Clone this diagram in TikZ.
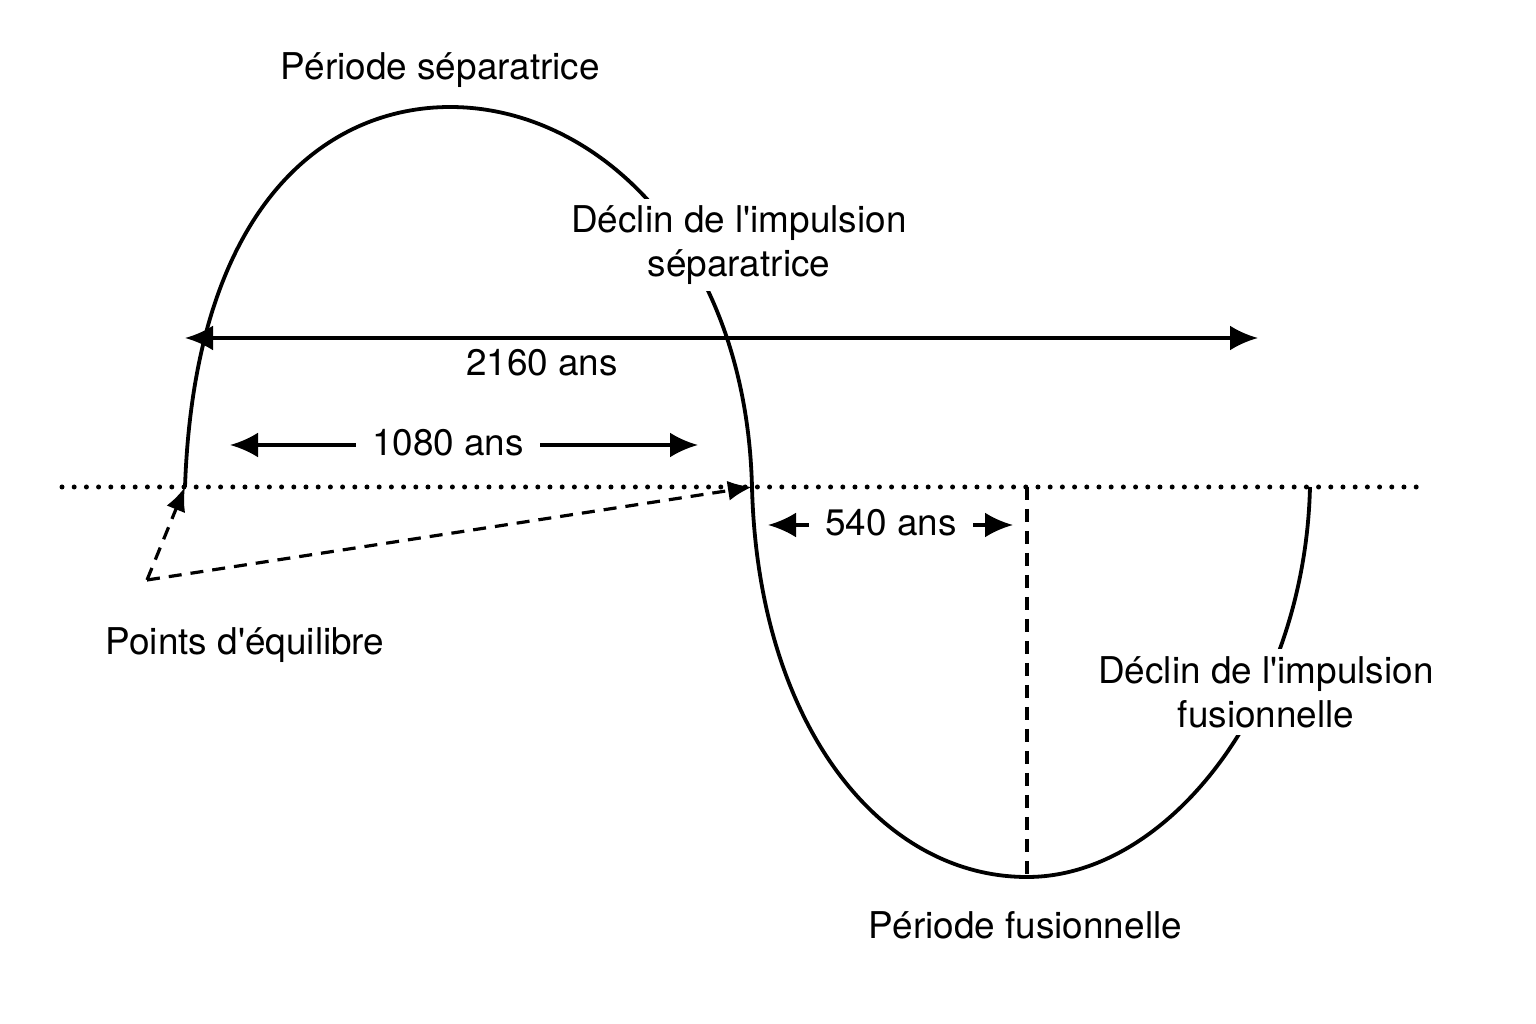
\documentclass[tikz,border=0pt]{standalone}
\usepackage{fontspec}
\setmainfont{TeX Gyre Heros}
\usetikzlibrary{arrows.meta}
\newcommand{\apos}{\textquotesingle}
\begin{document}
\begin{tikzpicture}[
        x=0.1mm, y=-0.1mm,
        lbl/.style={font=\fontsize{10.5}{12.5}\selectfont, align=center, inner sep=2pt},
        curve/.style={line width=0.38mm},
        dim/.style={line width=0.36mm, -{Latex[length=2.8mm, width=2.5mm]}},
        point/.style={line width=0.32mm, dash pattern=on 1.3mm off 0.9mm, -{Latex[length=2.4mm, width=2mm]}},
        axis/.style={line width=0.5mm, line cap=round, dash pattern=on 0pt off 1.22mm}
    ]
        \useasboundingbox (0,0) rectangle (1536,1024);

        % Equilibrium line
        \coordinate (axL) at (62,487);
        \coordinate (axR) at (1420,487);
        \draw[axis] (axL) -- (axR);

        % Points on the line
        \coordinate (eq1) at (185,487);
        \coordinate (eq2) at (752,487);
        \coordinate (eq3) at (1310,487);
        \coordinate (top) at (450,107);
        \coordinate (bot) at (1027,877);

        % Curve
        \draw[curve] (eq1) .. controls (195,200) and (330,107) .. (top)
            .. controls (600,107) and (746,250) .. (eq2)
            .. controls (758,724) and (880,877) .. (bot)
            .. controls (1170,877) and (1305,700) .. (eq3);

        % Labels on the curve
        \node[lbl] (perSep) at (440,70) {Période séparatrice};
        \node[lbl, fill=white] (decSep) at (739,245) {Déclin de l\apos impulsion\\séparatrice};
        \node[lbl, fill=white] (decFus) at (1266,692) {Déclin de l\apos impulsion\\fusionnelle};
        \node[lbl] (perFus) at (1025,925) {Période fusionnelle};
        \node[lbl] (ptsEq) at (245,645) {Points d\apos équilibre};

        % Dashed line to the bottom
        \draw[line width=0.32mm, dash pattern=on 1.3mm off 0.9mm] (1027,487) -- (bot);

        % Arrows to the equilibrium points
        \coordinate (src) at (147,580);
        \draw[point] (src) -- (eq1);
        \draw[point] (src) -- (eq2);

        % 2160 ans
        \coordinate (a1) at (185,338);
        \coordinate (a2) at (1258,338);
        \draw[dim, {Latex[length=2.8mm, width=2.5mm]}-{Latex[length=2.8mm, width=2.5mm]}] (a1) -- (a2);
        \node[lbl] (l2160) at (542,363) {2160 ans};

        % 1080 ans
        \node[lbl, inner sep=4.5pt] (l1080) at (448,443) {1080 ans};
        \coordinate (b1) at (230,445);
        \coordinate (b2) at (698,445);
        \draw[dim] (l1080.west |- b1) -- (b1);
        \draw[dim] (l1080.east |- b2) -- (b2);

        % 540 ans
        \node[lbl, inner sep=4.5pt] (l540) at (891,523) {540 ans};
        \coordinate (c1) at (768,525);
        \coordinate (c2) at (1013,525);
        \draw[dim] (l540.west |- c1) -- (c1);
        \draw[dim] (l540.east |- c2) -- (c2);

    \end{tikzpicture}
\end{document}
